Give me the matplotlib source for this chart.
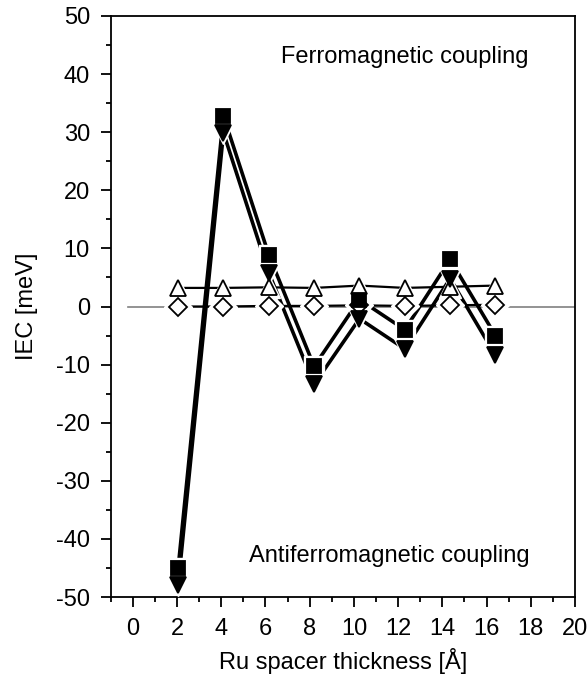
import numpy as np
import matplotlib.pyplot as plt

plt.rcParams['font.family'] = ['Liberation Sans', 'DejaVu Sans']
plt.rcParams['axes.unicode_minus'] = False

# Ru spacer thickness (A), IEC values (meV)
thickness = np.array([2.05, 4.1, 6.15, 8.2, 10.25, 12.3, 14.35, 16.4])
iec_square = np.array([-45.0, 32.8, 8.9, -10.3, 1.2, -4.0, 8.1, -5.0])
iec_tri_down = np.array([-48.0, 29.9, 5.8, -13.4, -2.1, -7.3, 4.8, -8.4])
iec_tri_up = np.array([3.2, 3.2, 3.3, 3.2, 3.6, 3.2, 3.4, 3.6])
iec_diamond = np.array([0.0, 0.0, 0.1, 0.1, 0.2, 0.1, 0.2, 0.3])

fig = plt.figure(figsize=(5.87, 6.74), dpi=100)
ax = fig.add_axes([0.1886, 0.1142, 0.7910, 0.8621])

ax.plot([-0.2, 20], [0, 0], color='#808080', lw=1.2, zorder=1)


def series(y, marker, ms, filled, lw):
    face = 'black' if filled else 'white'
    ax.plot(thickness, y, color='black', lw=lw, zorder=2)
    # white halo to break the line near each marker
    ax.plot(thickness, y, ls='none', marker=marker, ms=ms + 5,
            mfc='white', mec='white', zorder=3)
    ax.plot(thickness, y, ls='none', marker=marker, ms=ms,
            mfc=face, mec='black', mew=1.3, zorder=4)


series(iec_tri_up, '^', 11, False, 1.6)
series(iec_diamond, 'D', 9, False, 1.6)
series(iec_tri_down, 'v', 11, True, 2.6)
series(iec_square, 's', 10, True, 2.6)

ax.set_xlim(-1, 20)
ax.set_ylim(-50, 50)
ax.set_xticks(np.arange(0, 21, 2))
ax.set_xticks(np.arange(-1, 21, 1), minor=True)
ax.set_yticks(np.arange(-50, 51, 10))
ax.set_yticks(np.arange(-50, 51, 5), minor=True)
ax.tick_params(which='major', direction='out', length=7, width=1.3,
               labelsize=17, top=False, right=False, pad=8)
ax.tick_params(which='minor', direction='out', length=3.5, width=1.3,
               top=False, right=False)
for s in ax.spines.values():
    s.set_linewidth(1.3)

ax.set_xlabel('Ru spacer thickness [Å]', fontsize=17, labelpad=6)
ax.set_ylabel('IEC [meV]', fontsize=17, labelpad=13)

ax.text(12.3, 43, 'Ferromagnetic coupling', fontsize=17,
        ha='center', va='center')
ax.text(11.6, -43, 'Antiferromagnetic coupling', fontsize=17,
        ha='center', va='center')

fig.savefig('out.png', dpi=100)
